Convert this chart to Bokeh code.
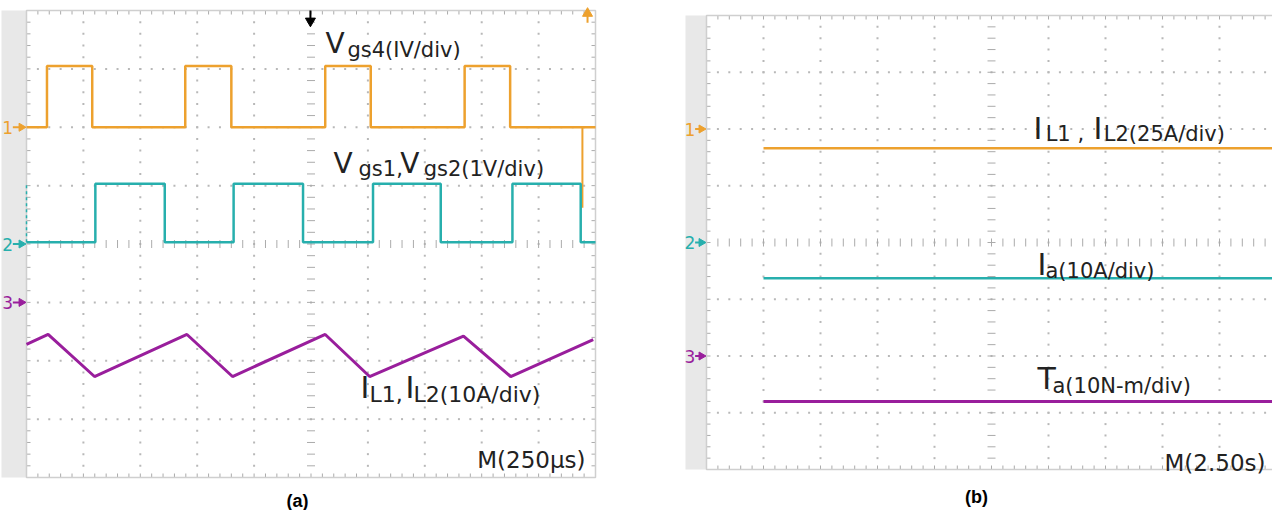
import numpy as np
from bokeh.plotting import figure
from bokeh.layouts import row
from bokeh.models import Range1d
from bokeh.core.properties import value
from bokeh.embed import file_html
from bokeh.resources import INLINE

# ---------------- data (in scope divisions: x 0..10, y 0..8) ----------------
# Panel (a)  M = 250 us/div
a_vgs4_edges = [0.36, 1.155, 2.79, 3.60, 5.25, 6.05, 7.70, 8.50]
a_vgs4_levels = [6.0, 7.05]            # low, high
a_vgs4_spike_t = 9.77
a_vgs4_spike_level = 4.62
a_vgs12_edges = [1.21, 2.43, 3.64, 4.86, 6.09, 7.28, 8.54, 9.74]
a_vgs12_levels = [4.03, 5.03]          # low, high
a_il_t = [0.0, 0.38, 1.195, 2.82, 3.62, 5.25, 6.03, 7.68, 8.51, 9.96]
a_il = [2.28, 2.45, 1.73, 2.45, 1.73, 2.45, 1.73, 2.42, 1.73, 2.36]
a_marker_levels = [6.0, 4.0, 3.0]
# Panel (b)  M = 2.50 s/div
b_t = [1.0, 10.0]
b_il = [5.66, 5.66]
b_ia = [3.37, 3.37]
b_ta = [1.20, 1.20]
b_marker_levels = [6.0, 4.0, 2.0]
channel_names = ["1", "2", "3"]

# ---------------- styles ----------------
ORANGE = "#EDA12E"
TEAL = "#27AFAD"
PURPLE = "#991E9C"
STRIP = "#E8E8E8"
GRID = "#B8B8B8"
TICK = "#ABABAB"
BORDER = "#CFCFCF"
TXT = "#222222"
FONT = value("DejaVu Sans")
NDIV_X, NDIV_Y = 10, 8


def step(edges, low, high, t0=0.0, t1=10.0):
    xs, ys, lvl = [t0], [low], low
    for e in edges:
        nxt = high if lvl == low else low
        xs += [e, e]
        ys += [lvl, nxt]
        lvl = nxt
    xs.append(t1)
    ys.append(lvl)
    return xs, ys


def make_fig(width, xr, yr):
    p = figure(width=width, height=510, x_range=Range1d(*xr), y_range=Range1d(*yr),
               output_backend="svg", toolbar_location=None,
               x_axis_location=None, y_axis_location=None, min_border=0)
    p.grid.visible = False
    p.outline_line_color = None
    p.background_fill_color = "white"
    p.border_fill_color = "white"
    return p


def scope(p, strip_left, tl_x, tl_y):
    p.quad(left=strip_left, right=0, bottom=0, top=NDIV_Y, fill_color=STRIP, line_color=None)
    fy = np.round(np.arange(0.2, NDIV_Y, 0.2), 3)
    fx = np.round(np.arange(0.2, NDIV_X, 0.2), 3)
    gx, gy = [], []
    for k in range(1, NDIV_X):
        if k == NDIV_X // 2:
            continue
        gx += [k] * len(fy)
        gy += list(fy)
    for k in range(1, NDIV_Y):
        if k == NDIV_Y // 2:
            continue
        gx += list(fx)
        gy += [k] * len(fx)
    p.scatter(gx, gy, marker="square", size=2, color=GRID, line_color=None)
    # edge ticks
    p.segment(x0=fx, y0=[NDIV_Y] * len(fx), x1=fx, y1=[NDIV_Y - tl_y] * len(fx), line_color=TICK, line_width=1)
    p.segment(x0=fx, y0=[0] * len(fx), x1=fx, y1=[tl_y] * len(fx), line_color=TICK, line_width=1)
    p.segment(x0=[0] * len(fy), y0=fy, x1=[tl_x] * len(fy), y1=fy, line_color=TICK, line_width=1)
    p.segment(x0=[NDIV_X] * len(fy), y0=fy, x1=[NDIV_X - tl_x] * len(fy), y1=fy, line_color=TICK, line_width=1)
    # centre cross ticks
    cx, cy = NDIV_X / 2, NDIV_Y / 2
    p.segment(x0=[cx - tl_x] * len(fy), y0=fy, x1=[cx + tl_x] * len(fy), y1=fy, line_color=TICK, line_width=1)
    p.segment(x0=fx, y0=[cy - tl_y] * len(fx), x1=fx, y1=[cy + tl_y] * len(fx), line_color=TICK, line_width=1)
    p.quad(left=0, right=NDIV_X, bottom=0, top=NDIV_Y, fill_color=None, line_color=BORDER, line_width=1.5)


def markers(p, levels, digit_x, shaft_x0, tri_x):
    for name, lvl, col in zip(channel_names, levels, [ORANGE, TEAL, PURPLE]):
        p.text(x=[digit_x], y=[lvl], text=[name], text_font=FONT, text_font_size="17px",
               text_color=col, text_align="center", text_baseline="middle")
        p.segment(x0=[shaft_x0], y0=[lvl], x1=[tri_x], y1=[lvl], line_color=col, line_width=2)
        p.scatter([tri_x], [lvl], marker="triangle", angle=-np.pi / 2, size=8, color=col)


def label(p, pieces):
    for x, y, t, size in pieces:
        p.text(x=[x], y=[y], text=[t], text_font=FONT, text_font_size=size, text_color=TXT,
               text_align="left", text_baseline="alphabetic")


# ---------------- panel (a) ----------------
A_X0, A_DX, A_Y0, A_DY = 26, 56.9, 477, 58.375
pa = make_fig(650, (-A_X0 / A_DX, (650 - A_X0) / A_DX), (-(510 - A_Y0) / A_DY, A_Y0 / A_DY))
scope(pa, -25 / A_DX, 4 / A_DX, 4 / A_DY)

x1, y1 = step(a_vgs4_edges, *a_vgs4_levels)
pa.line(x1, y1, line_color=ORANGE, line_width=2.5)
pa.segment(x0=[a_vgs4_spike_t], y0=[a_vgs4_levels[0]], x1=[a_vgs4_spike_t], y1=[a_vgs4_spike_level],
           line_color=ORANGE, line_width=2)
x2, y2 = step(a_vgs12_edges, *a_vgs12_levels)
pa.line(x2, y2, line_color=TEAL, line_width=2.5)
pa.line([0, 0], a_vgs12_levels, line_color=TEAL, line_width=1.5, line_dash="3 3")
pa.line(a_il_t, a_il, line_color=PURPLE, line_width=3)

markers(pa, a_marker_levels, -0.33, -0.24, -0.09)
# trigger markers at top
pa.segment(x0=[4.99], y0=[8.0], x1=[4.99], y1=[7.84], line_color="black", line_width=2)
pa.scatter([4.99], [7.82], marker="inverted_triangle", size=10, color="black")
pa.segment(x0=[9.86], y0=[7.95], x1=[9.86], y1=[7.79], line_color=ORANGE, line_width=2)
pa.scatter([9.86], [7.95], marker="triangle", size=10, color=ORANGE)

label(pa, [(5.255, 7.435, "V", "28px"), (5.64, 7.33, "gs4(IV/div)", "21px")])
label(pa, [(5.395, 5.38, "V", "28px"), (5.835, 5.29, "gs1,", "21px"),
           (6.57, 5.38, "V", "28px"), (6.98, 5.29, "gs2(1V/div)", "21px")])
label(pa, [(5.87, 1.54, "I", "30px"), (6.03, 1.42, "L1,", "22px"),
           (6.66, 1.54, "I", "30px"), (6.80, 1.42, "L2(10A/div)", "22px")])
pa.text(x=[9.824], y=[0.308], text=["M(250µs)"], text_font=FONT, text_font_size="23px",
        text_color=TXT, text_align="right", text_baseline="alphabetic")
pa.text(x=[4.763], y=[-0.41], text=["(a)"], text_font=value("Liberation Sans"), text_font_size="18px",
        text_font_style="bold", text_color="black", text_align="center", text_baseline="middle")

# ---------------- panel (b) ----------------
B_X0, B_DX, B_Y0, B_DY = 56, 57.0, 469, 56.75
pb = make_fig(622, (-B_X0 / B_DX, (622 - B_X0) / B_DX), (-(510 - B_Y0) / B_DY, B_Y0 / B_DY))
scope(pb, -21 / B_DX, 4 / B_DX, 4 / B_DY)

pb.line(b_t, b_il, line_color=ORANGE, line_width=2.5)
pb.line(b_t, b_ia, line_color=TEAL, line_width=2.5)
pb.line(b_t, b_ta, line_color=PURPLE, line_width=3)

markers(pb, b_marker_levels, -0.29, -0.2, -0.09)

label(pb, [(5.737, 6.009, "I", "30px"), (5.95, 5.91, "L1 ,", "21px"),
           (6.79, 6.009, "I", "30px"), (6.97, 5.91, "L2(25A/div)", "21px")])
label(pb, [(5.807, 3.612, "I", "30px"), (5.947, 3.50, "a(10A/div)", "21px")])
label(pb, [(5.807, 1.604, "T", "30px"), (6.07, 1.465, "a(10N-m/div)", "21px")])
pb.text(x=[9.807], y=[0.106], text=["M(2.50s)"], text_font=FONT, text_font_size="23px",
        text_color=TXT, text_align="right", text_baseline="alphabetic")
pb.text(x=[4.737], y=[-0.49], text=["(b)"], text_font=value("Liberation Sans"), text_font_size="18px",
        text_font_style="bold", text_color="black", text_align="center", text_baseline="middle")

layout = row(pa, pb, spacing=0)
open("out.html", "w").write(file_html(layout, INLINE))
